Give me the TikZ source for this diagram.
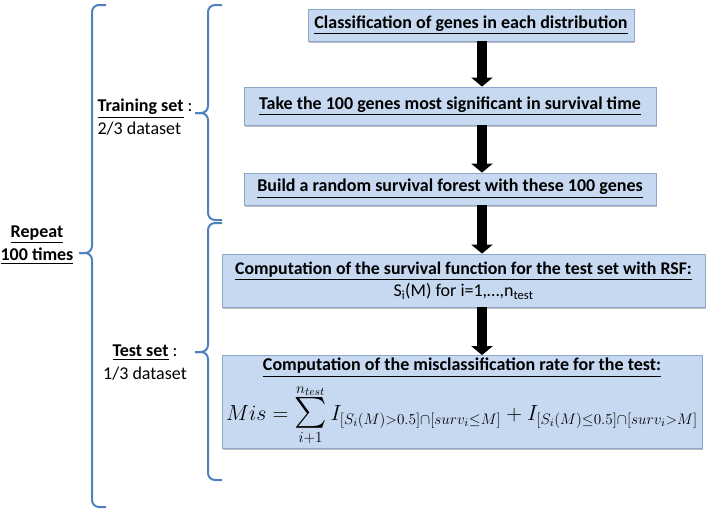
\documentclass[tikz,border=0pt]{standalone}
\usepackage{fontspec}
\setmainfont{Carlito}
\usepackage{amsmath,amssymb,graphicx}
\usepackage{tikz}
\usetikzlibrary{arrows.meta,shadows}

\definecolor{boxfill}{HTML}{C6D9F1}
\definecolor{boxline}{HTML}{8DA7CB}
\definecolor{bracecol}{HTML}{4F81BD}

\tikzset{
  stepbox/.style={draw=boxline,fill=boxfill,line width=0.8pt,inner sep=0pt,align=center,
    font=\fontsize{18}{22}\selectfont,
    drop shadow={shadow xshift=1.2pt,shadow yshift=-1.5pt,opacity=0.25,fill=black}},
  flow/.style={line width=10pt,-{Triangle[width=21pt,length=9pt]}},
  curly/.style={draw=bracecol,line width=2pt,rounded corners=7pt},
  side/.style={font=\fontsize{18}{23}\selectfont}
}

\begin{document}
\begin{tikzpicture}[x=1pt,y=-1pt]
\useasboundingbox (0,0) rectangle (708,512);

    \node[stepbox,minimum width=326,minimum height=32] (b1) at (471,25)
        {\textbf{\underline{Classification of genes in each distribution}}};
    \node[stepbox,minimum width=412,minimum height=38] (b2) at (450,106)
        {\textbf{\underline{Take the 100 genes most significant in survival time}}};
    \node[stepbox,minimum width=412,minimum height=32] (b3) at (450,189)
        {\textbf{\underline{Build a random survival forest with these 100 genes}}};
    \node[stepbox,minimum width=483,minimum height=53] (b4) at (463.5,280.5)
        {{\fontsize{17.8}{22}\selectfont\textbf{\underline{Computation of the survival function for the test set with RSF:}}}\\
         S\textsubscript{i}(M) for i=1,…,n\textsubscript{test}};
    \node[stepbox,minimum width=480,minimum height=93] (b5) at (462,402)
        {\textbf{\underline{Computation of the misclassification rate for the test:}}\\[6pt]
         \resizebox{472pt}{!}{$Mis=\mathop{\scalebox{1.35}{$\sum$}}\limits_{i+1}^{n_{test}} I_{[S_i(M)>0.5]\cap[surv_i\leq M]}+I_{[S_i(M)\leq 0.5]\cap[surv_i>M]}$}};

    \coordinate (ax) at (482,0);
	\draw[flow] (b1.south -| ax) -- (b2.north -| ax);
	\draw[flow] (b2.south -| ax) -- (b3.north -| ax);
	\draw[flow] (b3.south -| ax) -- (b4.north -| ax);
	\draw[flow] (b4.south -| ax) -- (b5.north -| ax);

    % braces: stub x / spine x / tip x / top / bottom / tip y
	\foreach \xr/\xs/\xt/\yt/\yb/\ym in {106/92/79/5/507/253, 222/208/195/5/220/113, 222/208/195/223/480/352}{
	  \draw[curly] (\xr,\yt) -- (\xs,\yt) -- (\xs,\ym) -- (\xt,\ym);
	  \draw[curly] (\xr,\yb) -- (\xs,\yb) -- (\xs,\ym) -- (\xt,\ym);
	}

    \node[side,align=center] (rep) at (37,245) {\textbf{\underline{Repeat}}\\\textbf{\underline{100 times}}};
    \node[side,align=left,anchor=west] (train) at (94,117) {\textbf{\underline{Training set}} :\\2/3 dataset};
    \node[side,align=center] (test) at (145,363) {\textbf{\underline{Test set}} :\\1/3 dataset};

\end{tikzpicture}
\end{document}
